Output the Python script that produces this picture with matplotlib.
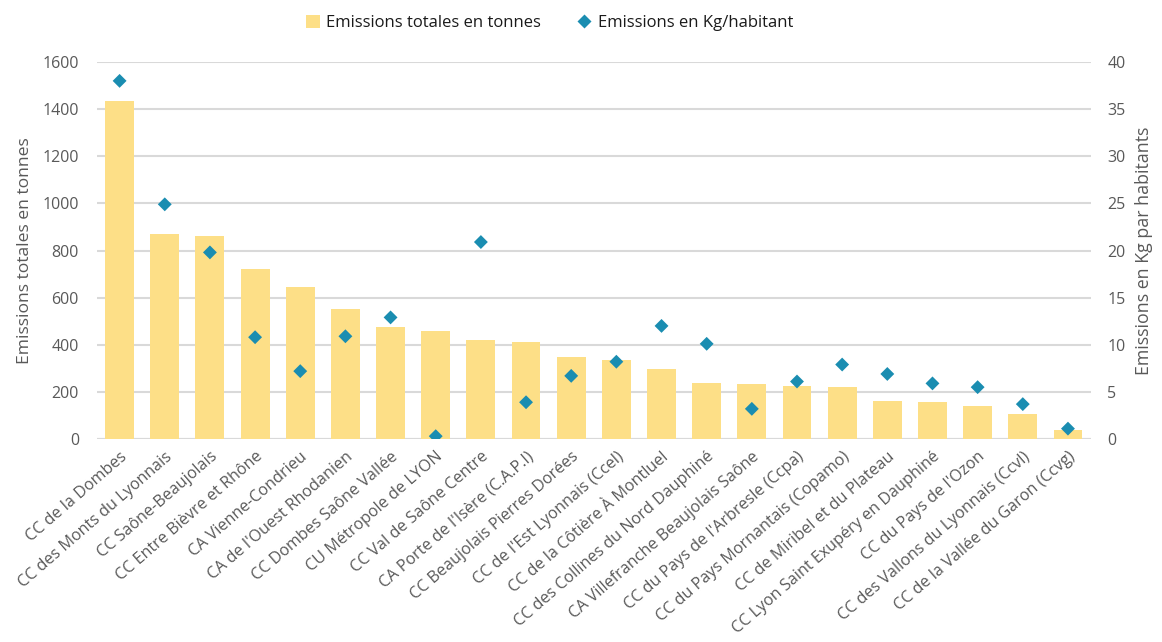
import matplotlib
matplotlib.use("Agg")
import matplotlib.pyplot as plt
from matplotlib.lines import Line2D
from matplotlib.patches import Patch

territoires = [
    "CC de la Dombes",
    "CC des Monts du Lyonnais",
    "CC Saône-Beaujolais",
    "CC Entre Bièvre et Rhône",
    "CA Vienne-Condrieu",
    "CA de l'Ouest Rhodanien",
    "CC Dombes Saône Vallée",
    "CU Métropole de LYON",
    "CC Val de Saône Centre",
    "CA Porte de l'Isère (C.A.P.I)",
    "CC Beaujolais Pierres Dorées",
    "CC de l'Est Lyonnais (Ccel)",
    "CC de la Côtière À Montluel",
    "CC des Collines du Nord Dauphiné",
    "CA Villefranche Beaujolais Saône",
    "CC du Pays de l'Arbresle (Ccpa)",
    "CC du Pays Mornantais (Copamo)",
    "CC de Miribel et du Plateau",
    "CC Lyon Saint Exupéry en Dauphiné",
    "CC du Pays de l'Ozon",
    "CC des Vallons du Lyonnais (Ccvl)",
    "CC de la Vallée du Garon (Ccvg)",
]

emissions_tonnes = [1436, 870, 862, 723, 644, 550, 474, 457, 420, 412, 349,
                    335, 296, 239, 235, 226, 222, 163, 158, 139, 106, 37]

emissions_kg_hab = [38.0, 24.9, 19.8, 10.8, 7.2, 10.9, 12.9, 0.3, 20.9, 3.9, 6.7,
                    8.2, 12.0, 10.1, 3.2, 6.1, 7.9, 6.9, 5.9, 5.5, 3.7, 1.1]

left_ticks = [0, 200, 400, 600, 800, 1000, 1200, 1400, 1600]
right_ticks = [0, 5, 10, 15, 20, 25, 30, 35, 40]

BAR_COLOR = "#FDDF87"
DOT_COLOR = "#1A8DB1"
GRID_COLOR = "#D9D9D9"
TEXT_COLOR = "#595959"
FONT = ["Open Sans", "DejaVu Sans"]

plt.rcParams["font.family"] = FONT

fig = plt.figure(figsize=(11.62, 6.42), dpi=100)
ax = fig.add_axes([0.0835, 0.3162, 0.855, 0.5872])
ax2 = ax.twinx()

x = list(range(len(territoires)))
ax.bar(x, emissions_tonnes, width=0.64, color=BAR_COLOR, zorder=2)
ax2.scatter(x, emissions_kg_hab, marker="D", s=50, color=DOT_COLOR,
            edgecolor="none", zorder=3)

ax.set_xlim(-0.5, len(territoires) - 0.5)
ax.set_ylim(0, 1600)
ax2.set_ylim(0, 40)
ax.set_yticks(left_ticks)
ax2.set_yticks(right_ticks)

ax.yaxis.grid(True, color=GRID_COLOR, linewidth=1.5, zorder=0)
ax.set_axisbelow(True)

for a in (ax, ax2):
    for side in ("top", "left", "right", "bottom"):
        a.spines[side].set_visible(False)
    a.tick_params(length=0, colors=TEXT_COLOR, labelsize=11.5)

ax.axhline(0, color=GRID_COLOR, linewidth=1.5, zorder=1)

ax.set_xticks(x)
ax.set_xticklabels(territoires, rotation=41, ha="right",
                   rotation_mode="anchor", fontsize=11.6, color=TEXT_COLOR)
ax.tick_params(axis="x", pad=7)
ax.tick_params(axis="y", pad=13)
ax2.tick_params(axis="y", pad=12)

ax.set_ylabel("Emissions totales en tonnes", fontsize=12.6, color=TEXT_COLOR,
              labelpad=7)
ax2.set_ylabel("Emissions en Kg par habitants", fontsize=12.8, color=TEXT_COLOR,
               labelpad=7)

handles = [
    Patch(facecolor=BAR_COLOR, edgecolor="none", label="Emissions totales en tonnes"),
    Line2D([], [], marker="D", linestyle="none", markersize=7,
           markerfacecolor=DOT_COLOR, markeredgecolor="none",
           label="Emissions en Kg/habitant"),
]
fig.legend(handles=handles, loc="upper center", bbox_to_anchor=(0.473, 1.0),
           ncol=2, frameon=False, fontsize=12, handlelength=0.8,
           handleheight=0.8, handletextpad=0.4, columnspacing=2.2,
           labelcolor="#1a1a1a")

fig.savefig("out.png", dpi=100)
